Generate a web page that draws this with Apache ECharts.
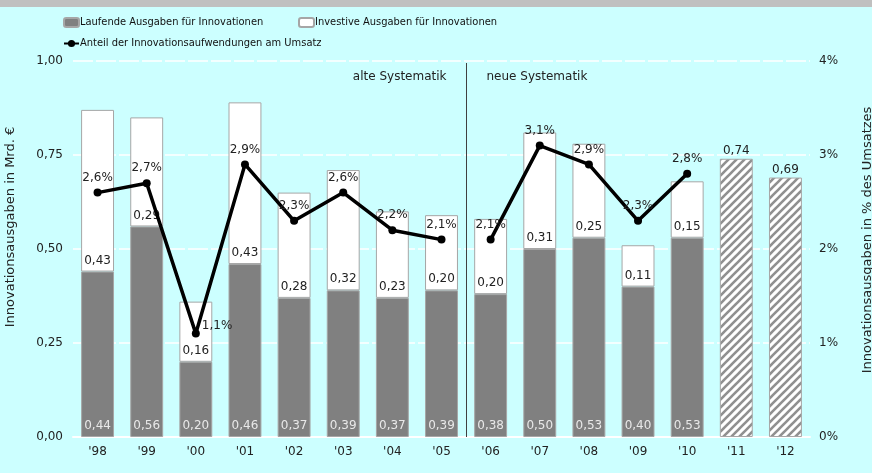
<!DOCTYPE html>
<html>
<head>
<meta charset="utf-8">
<script src="https://cdn.jsdelivr.net/npm/echarts@6/dist/echarts.min.js"></script>
<style>
  html, body { margin: 0; padding: 0; background: #ccffff; }
  #chart { width: 872px; height: 473px; }
</style>
</head>
<body>
<div id="chart"></div>
<script>
const years = ["'98", "'99", "'00", "'01", "'02", "'03", "'04", "'05", "'06", "'07", "'08", "'09", "'10", "'11", "'12"];
const laufend = [0.44, 0.56, 0.20, 0.46, 0.37, 0.39, 0.37, 0.39, 0.38, 0.50, 0.53, 0.40, 0.53, null, null];
const investiv = [0.43, 0.29, 0.16, 0.43, 0.28, 0.32, 0.23, 0.20, 0.20, 0.31, 0.25, 0.11, 0.15, null, null];
const prognose = [null, null, null, null, null, null, null, null, null, null, null, null, null, 0.74, 0.69];
const anteilAlt = [2.6, 2.7, 1.1, 2.9, 2.3, 2.6, 2.2, 2.1, null, null, null, null, null, null, null];
const anteilNeu = [null, null, null, null, null, null, null, null, 2.1, 3.1, 2.9, 2.3, 2.8, null, null];
const leftTicks = [0, 0.25, 0.5, 0.75, 1];
const rightTicks = [0, 1, 2, 3, 4];

const font = 'DejaVu Sans';
const legendFont = '"DejaVu Sans Condensed", "Liberation Sans Narrow", sans-serif';
const nameLauf = 'Laufende Ausgaben für Innovationen';
const nameInv = 'Investive Ausgaben für Innovationen';
const nameAnt = 'Anteil der Innovationsaufwendungen am Umsatz';

// hatch pattern for the forecast bars
const hatch = document.createElement('canvas');
hatch.width = 8; hatch.height = 8;
const hc = hatch.getContext('2d');
hc.fillStyle = '#ffffff';
hc.fillRect(0, 0, 8, 8);
hc.strokeStyle = '#909090';
hc.lineWidth = 2.6;
[[0, 8, 8, 0], [-2, 2, 2, -2], [6, 10, 10, 6]].forEach(l => {
  hc.beginPath(); hc.moveTo(l[0], l[1]); hc.lineTo(l[2], l[3]); hc.stroke();
});

const comma2 = v => v.toFixed(2).replace('.', ',');
const pct = p => p.value.toFixed(1).replace('.', ',') + '%';
const lineData = arr => arr.map((v, i) => (i === 2 && v != null) ? { value: v, label: { position: 'right', distance: 2, offset: [0, -8] } } : v);

const chart = echarts.init(document.getElementById('chart'));

const lineSeries = data => ({
  name: nameAnt,
  type: 'line',
  yAxisIndex: 1,
  data: lineData(data),
  symbol: 'circle',
  symbolSize: 8,
  z: 5,
  lineStyle: { color: '#000', width: 3.5 },
  itemStyle: { color: '#000' },
  label: { show: true, position: 'top', distance: 5, formatter: pct, fontFamily: font, fontSize: 12, color: '#222' }
});

const legendBase = {
  orient: 'horizontal', padding: 0, itemWidth: 15, itemHeight: 9, itemGap: 4,
  textStyle: { fontFamily: legendFont, fontSize: 11, color: '#111', padding: [0, 0, 0, -4] },
  selectedMode: false
};

chart.setOption({
  backgroundColor: '#ccffff',
  animation: false,
  textStyle: { fontFamily: font },
  legend: [
    Object.assign({}, legendBase, { left: 63, top: 17, data: [nameLauf] }),
    Object.assign({}, legendBase, { left: 298, top: 17, data: [nameInv] }),
    Object.assign({}, legendBase, { left: 63, top: 38, data: [nameAnt] })
  ],
  grid: { left: 73, right: 62, top: 61, bottom: 36, containLabel: false, outerBoundsMode: 'none' },
  xAxis: {
    type: 'category',
    data: years,
    axisTick: { show: false },
    axisLine: { lineStyle: { color: '#ffffff', width: 2 } },
    axisLabel: { margin: 9, fontFamily: font, fontSize: 12, color: '#222' }
  },
  yAxis: [
    {
      type: 'value', min: leftTicks[0], max: leftTicks[leftTicks.length - 1], interval: 0.25,
      name: 'Innovationsausgaben in Mrd. €', nameLocation: 'middle', nameGap: 56, nameRotate: 90,
      nameTextStyle: { fontFamily: font, fontSize: 13, color: '#222', padding: [0, 0, 0, 44] },
      axisLine: { show: false }, axisTick: { show: false },
      axisLabel: { margin: 10, fontFamily: font, fontSize: 12, color: '#222', formatter: comma2 },
      splitLine: { lineStyle: { color: '#ffffff', width: 1.5, type: [20, 3] } }
    },
    {
      type: 'value', min: rightTicks[0], max: rightTicks[rightTicks.length - 1], interval: 1,
      name: 'Innovationsausgaben in % des Umsatzes', nameLocation: 'middle', nameGap: 51, nameRotate: 90,
      nameTextStyle: { fontFamily: font, fontSize: 13, color: '#222', padding: [0, 0, 0, 18] },
      axisLine: { show: false }, axisTick: { show: false },
      axisLabel: { margin: 9, fontFamily: font, fontSize: 12, color: '#222', formatter: v => v + '%' },
      splitLine: { show: false }
    }
  ],
  series: [
    {
      name: nameLauf, type: 'bar', stack: 'a', data: laufend, barWidth: '67%',
      itemStyle: { color: '#808080', borderColor: '#a6a6a6', borderWidth: 1 },
      label: { show: true, position: 'insideBottom', distance: 5, color: '#e8e8e8', fontFamily: font, fontSize: 12, formatter: p => comma2(p.value) }
    },
    {
      name: nameInv, type: 'bar', stack: 'a', data: investiv,
      itemStyle: { color: '#ffffff', borderColor: '#a6a6a6', borderWidth: 1 },
      label: { show: true, position: 'insideBottom', distance: 5, color: '#222', fontFamily: font, fontSize: 12, formatter: p => comma2(p.value) }
    },
    {
      name: 'Prognose', type: 'bar', stack: 'a', data: prognose,
      itemStyle: { color: { image: hatch, repeat: 'repeat' }, borderColor: '#a6a6a6', borderWidth: 1 },
      label: { show: true, position: 'top', distance: 2, color: '#222', fontFamily: font, fontSize: 12, formatter: p => comma2(p.value) }
    },
    lineSeries(anteilAlt),
    lineSeries(anteilNeu)
  ]
});

// divider between old and new methodology
const xa = chart.convertToPixel({ xAxisIndex: 0 }, 7);
const xb = chart.convertToPixel({ xAxisIndex: 0 }, 8);
const xd = Math.round((xa + xb) / 2) + 0.5;
const yTop = chart.convertToPixel({ yAxisIndex: 0 }, 1);
const yBot = chart.convertToPixel({ yAxisIndex: 0 }, 0);
chart.setOption({
  graphic: [
    { type: 'rect', shape: { x: 0, y: 0, width: 872, height: 7 }, style: { fill: '#c0c0c0' }, z: 10 },
    { type: 'line', shape: { x1: xd, y1: yTop + 2, x2: xd, y2: yBot }, style: { stroke: '#404040', lineWidth: 1 }, z: 10 },
    { type: 'text', x: xd - 20, y: yTop + 16, style: { text: 'alte Systematik', font: '12px "DejaVu Sans"', fill: '#222', align: 'right', verticalAlign: 'middle' } },
    { type: 'text', x: xd + 20, y: yTop + 16, style: { text: 'neue Systematik', font: '12px "DejaVu Sans"', fill: '#222', align: 'left', verticalAlign: 'middle' } }
  ]
});
</script>
</body>
</html>
